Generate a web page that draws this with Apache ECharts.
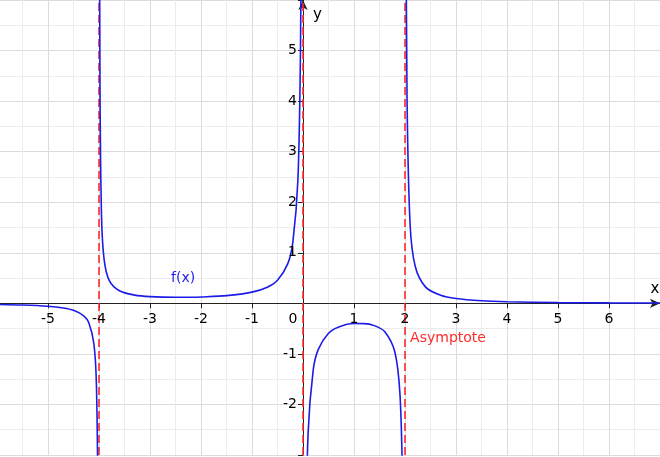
<!DOCTYPE html>
<html><head><meta charset="utf-8">
<script src="https://cdn.jsdelivr.net/npm/echarts@6/dist/echarts.min.js"></script>
<style>html,body{margin:0;padding:0;background:#fff}#c{width:660px;height:457px}</style>
</head><body><div id="c"></div>
<script>
var xA=[-6.5,-6,-5.5,-5,-4.7,-4.5,-4.3,-4.2,-4.1,-4.05,-4.02,-4.01];
var yA=[-0.015,-0.021,-0.032,-0.057,-0.091,-0.137,-0.246,-0.384,-0.80,-1.63,-4.13,-8.3];
var xB=[-3.99,-3.98,-3.95,-3.9,-3.8,-3.6,-3.3,-3,-2.5,-2.2,-2,-1.5,-1,-0.7,-0.5,-0.3,-0.2,-0.1,-0.05,-0.03];
var yB=[8.37,4.2,1.70,0.87,0.454,0.248,0.163,0.133,0.119,0.120,0.125,0.152,0.222,0.32,0.457,0.78,1.20,2.44,4.94,8.27];
var xC=[0.03,0.05,0.1,0.2,0.3,0.5,0.7,1,1.2,1.4,1.6,1.8,1.9,1.95,1.97,1.98];
var yC=[-8.4,-5.06,-2.57,-1.32,-0.91,-0.593,-0.468,-0.4,-0.401,-0.441,-0.558,-0.958,-1.78,-3.45,-5.67,-8.5];
var xD=[2.02,2.04,2.1,2.2,2.4,2.7,3,3.5,4,5,6,7];
var yD=[8.2,4.06,1.56,0.733,0.326,0.158,0.095,0.051,0.031,0.015,0.0083,0.0052];
var asymptotes=[-4,0,2];
var xTicks=[-5,-4,-3,-2,-1,0,1,2,3,4,5,6];
var yTicks=[-2,-1,1,2,3,4,5];
function pairs(xs,ys){return xs.map(function(x,i){return [x,ys[i]];});}
var blue='#1c1ce8', red='#ff2a2a', ink='#000', font='DejaVu Sans';
function branch(xs,ys,extra){var s={type:'line',data:pairs(xs,ys),smooth:0.3,showSymbol:false,clip:true,
  lineStyle:{color:blue,width:1.6},itemStyle:{color:blue},z:5};
  if(extra){for(var k in extra)s[k]=extra[k];} return s;}
function textSeries(data,label){return {type:'scatter',data:data,symbolSize:0,silent:true,z:6,
  itemStyle:{opacity:1},
  label:Object.assign({show:true,fontSize:14,fontFamily:font,color:ink,opacity:1},label)};}
var chart=echarts.init(document.getElementById('c'));
chart.setOption({
  animation:false,
  grid:{left:-3,right:0,top:0,bottom:2,outerBoundsMode:'none',containLabel:false},
  xAxis:{type:'value',min:-6,max:7,interval:1,
    axisLine:{onZero:true,lineStyle:{color:'#222'},symbol:['none','arrow'],symbolSize:[7,10]},
    axisTick:{show:true,length:5,lineStyle:{color:'#222'}},
    axisLabel:{show:false},
    splitLine:{show:true,lineStyle:{color:'#dcdcdc'}},
    minorTick:{show:false,splitNumber:2},
    minorSplitLine:{show:true,lineStyle:{color:'#ececec'}}},
  yAxis:{type:'value',min:-3,max:6,interval:1,
    axisLine:{onZero:true,lineStyle:{color:'#222'},symbol:['none','arrow'],symbolSize:[7,10]},
    axisTick:{show:true,length:5,lineStyle:{color:'#222'}},
    axisLabel:{show:false},
    splitLine:{show:true,lineStyle:{color:'#dcdcdc'}},
    minorTick:{show:false,splitNumber:2},
    minorSplitLine:{show:true,lineStyle:{color:'#ececec'}}},
  series:[
    branch(xA,yA,{markLine:{silent:true,symbol:['none','none'],label:{show:false},
      lineStyle:{color:red,type:[8,4],width:1.6,opacity:1},data:asymptotes.map(function(a){return {xAxis:a};})}}),
    branch(xB,yB),
    branch(xC,yC),
    branch(xD,yD),
    textSeries(xTicks.map(function(v){return {value:[v,0],label:{offset:v===0?[-10,0]:[0,0]}};}),
      {position:'bottom',distance:9,formatter:function(p){return String(p.value[0]);}}),
    textSeries(yTicks.map(function(v){return [0,v];}),
      {position:'left',distance:6,formatter:function(p){return String(p.value[1]);}}),
    textSeries([[6.9,0]],{position:'top',distance:7,fontSize:15,formatter:'x'}),
    textSeries([[0,5.7]],{position:'right',distance:10,fontSize:15,formatter:'y'}),
    textSeries([[-2.35,0.5]],{position:'inside',color:blue,formatter:'f(x)'}),
    textSeries([[2.1,-0.7]],{position:'right',distance:0,color:red,formatter:'Asymptote'})
  ]
});
</script></body></html>
